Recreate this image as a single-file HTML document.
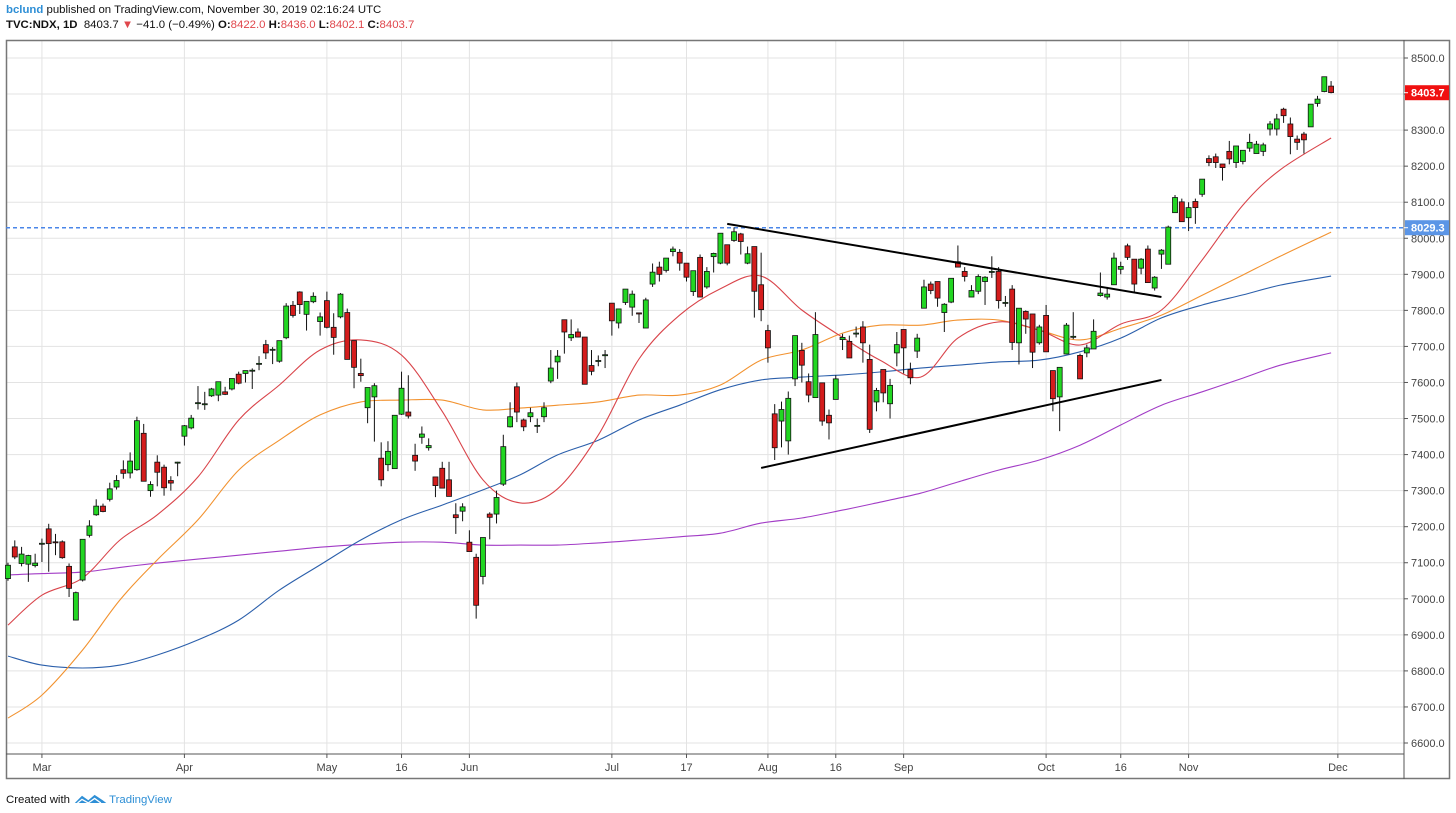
<!DOCTYPE html>
<html><head><meta charset="utf-8">
<style>
html,body{margin:0;padding:0;background:#fff;width:1456px;height:813px;overflow:hidden;font-family:"Liberation Sans",sans-serif;}
#hdr1{position:absolute;left:6px;top:4px;font-size:11.4px;color:#111;white-space:nowrap;}
#hdr2{position:absolute;left:6px;top:19px;font-size:11.4px;color:#111;white-space:nowrap;}
#hdr2 b{font-weight:bold;}
.blue{color:#2e8fd6;font-weight:bold;}
.red{color:#e0474c;}
#footer{position:absolute;left:6px;top:790px;font-size:11.4px;color:#111;white-space:nowrap;}
#footer .blue{font-weight:normal;}
svg{position:absolute;left:0;top:0;}
</style></head><body>
<div id="hdr1"><span class="blue">bclund</span> published on TradingView.com, November 30, 2019 02:16:24 UTC</div>
<div id="hdr2"><b>TVC:NDX, 1D</b>&nbsp; 8403.7 <span class="red">▼</span> −41.0 (−0.49%) <b>O:</b><span class="red">8422.0</span> <b>H:</b><span class="red">8436.0</span> <b>L:</b><span class="red">8402.1</span> <b>C:</b><span class="red">8403.7</span></div>
<svg id="chart" width="1456" height="813"></svg>
<div id="footer">Created with <svg width="36" height="13" viewBox="0 0 40 14" style="position:relative;top:2px;left:0;display:inline-block"><path d="M2 12 L10 4 L17 9 L24 3 L33 9 L37 12 Z" fill="#2e8fd6"/><path d="M5 12 L10 8 L17 12 L24 7 L31 12" fill="none" stroke="#fff" stroke-width="1.5"/></svg><span class="blue">TradingView</span></div>
<script>
const opens=[7056,7144,7098,7096,7092,7152,7194,7158,7158,7090,6941,7052,7176,7233,7257,7276,7310,7358,7349,7358,7459,7300,7379,7365,7328,7379,7451,7474,7544,7541,7563,7565,7574,7582,7623,7625,7634,7653,7705,7692,7659,7724,7814,7851,7789,7824,7769,7827,7753,7782,7794,7716,7625,7530,7560,7390,7372,7361,7512,7518,7398,7448,7419,7338,7362,7330,7233,7243,7157,7115,7062,7235,7235,7318,7477,7588,7496,7505,7481,7505,7604,7657,7774,7724,7740,7726,7647,7661,7677,7820,7765,7822,7809,7793,7751,7873,7920,7911,7963,7961,7931,7852,7947,7865,7949,7931,7982,7994,8012,7931,7977,7871,7744,7513,7493,7438,7610,7689,7602,7558,7599,7509,7553,7719,7714,7737,7754,7664,7546,7636,7541,7682,7747,7636,7687,7806,7873,7880,7794,7823,7935,7908,7837,7853,7880,7908,7908,7822,7859,7710,7797,7790,7710,7786,7633,7560,7679,7728,7675,7682,7693,7841,7837,7871,7914,7979,7942,7917,7970,7862,7956,7928,8071,8101,8057,8102,8122,8221,8226,8206,8241,8210,8213,8250,8235,8241,8303,8303,8358,8317,8275,8289,8309,8374,8407,8422];
const highs=[7100,7162,7144,7122,7125,7167,7208,7180,7162,7098,7020,7165,7218,7276,7264,7322,7343,7384,7406,7505,7485,7326,7398,7372,7340,7380,7482,7510,7590,7574,7585,7602,7588,7611,7630,7633,7639,7673,7718,7698,7716,7820,7826,7853,7825,7850,7794,7852,7792,7848,7805,7716,7666,7586,7598,7434,7437,7509,7630,7620,7430,7478,7445,7338,7380,7380,7265,7265,7190,7125,7170,7240,7300,7455,7545,7600,7500,7530,7500,7545,7690,7690,7774,7775,7750,7726,7690,7675,7690,7820,7804,7859,7855,7793,7835,7930,7935,7945,7977,7970,7931,7910,7955,7920,7960,8014,7982,8030,8015,7977,7977,7960,7760,7540,7547,7575,7730,7710,7625,7795,7599,7525,7620,7735,7730,7755,7770,7705,7585,7636,7610,7740,7747,7655,7735,7885,7880,7880,7820,7889,7980,7920,7870,7900,7895,7950,7920,7840,7870,7806,7800,7790,7760,7815,7633,7642,7765,7795,7680,7705,7775,7905,7865,7960,7935,7985,7942,7945,7980,7895,7970,8035,8120,8110,8100,8110,8164,8230,8235,8206,8270,8256,8244,8290,8270,8265,8325,8345,8362,8335,8285,8295,8372,8395,8448,8436];
const lows=[7050,7110,7090,7047,7087,7102,7075,7121,7111,7005,6940,7048,7170,7230,7240,7270,7303,7333,7334,7355,7326,7283,7312,7286,7300,7340,7425,7470,7525,7524,7560,7548,7565,7578,7595,7600,7582,7634,7665,7651,7655,7720,7780,7790,7744,7820,7730,7750,7677,7778,7664,7584,7602,7487,7436,7312,7354,7361,7510,7500,7355,7430,7411,7282,7307,7284,7180,7215,7131,6945,7040,7165,7209,7313,7475,7490,7465,7490,7460,7490,7598,7610,7680,7715,7725,7595,7620,7645,7640,7730,7750,7815,7785,7765,7751,7865,7880,7905,7950,7910,7880,7840,7837,7860,7905,7928,7925,7990,7955,7928,7780,7770,7655,7385,7420,7400,7590,7600,7545,7558,7480,7442,7553,7690,7668,7725,7655,7460,7520,7545,7500,7645,7625,7595,7668,7806,7845,7810,7740,7820,7920,7880,7837,7845,7815,7890,7805,7810,7690,7650,7735,7640,7705,7685,7520,7465,7679,7720,7610,7670,7693,7838,7830,7871,7900,7940,7850,7900,7877,7855,7915,7928,8071,8046,8020,8040,8115,8200,8195,8160,8205,8195,8205,8240,8235,8228,8285,8285,8320,8233,8245,8235,8309,8365,8405,8402];
const closes=[7093,7116,7124,7120,7099,7154,7153,7157,7114,7029,7017,7165,7202,7257,7242,7305,7328,7348,7382,7494,7326,7317,7351,7308,7321,7379,7480,7501,7544,7541,7582,7602,7567,7611,7598,7633,7634,7653,7682,7692,7716,7812,7786,7816,7825,7839,7782,7753,7725,7845,7664,7642,7619,7586,7591,7330,7409,7509,7584,7507,7382,7457,7425,7314,7307,7284,7225,7255,7131,6982,7170,7226,7281,7422,7505,7518,7477,7516,7481,7530,7640,7673,7740,7733,7726,7595,7631,7661,7677,7771,7804,7859,7845,7790,7829,7906,7900,7945,7970,7931,7892,7910,7837,7908,7958,8014,7931,8018,7991,7957,7853,7802,7696,7419,7525,7556,7730,7648,7565,7733,7493,7488,7610,7725,7668,7737,7710,7470,7578,7571,7592,7705,7696,7613,7723,7865,7855,7834,7817,7889,7920,7894,7855,7894,7892,7908,7827,7822,7711,7806,7776,7684,7754,7685,7555,7642,7759,7728,7610,7696,7742,7848,7845,7945,7922,7947,7873,7942,7877,7892,7967,8031,8113,8046,8085,8085,8164,8210,8210,8196,8220,8256,8244,8266,8261,8259,8317,8331,8340,8282,8266,8273,8372,8386,8448,8404];
// moving averages sampled at bar indices
const maIdx=[0,5,11,16.5,22,28,34,40,46,52,58,64,70,75.5,81,87,93,99,105,111,117,123,128.5,134.5,140,146,152,158,164,170,176,182,187.5,195];
const ma20=[6927,7010,7058,7163,7233,7338,7496,7593,7690,7718,7676,7520,7330,7266,7305,7454,7665,7787,7860,7895,7801,7725,7662,7615,7723,7768,7745,7704,7762,7801,7940,8092,8190,8278];
const ma50=[6669,6733,6858,6997,7108,7219,7357,7440,7510,7546,7551,7551,7524,7529,7537,7546,7565,7565,7593,7662,7690,7737,7759,7759,7773,7773,7745,7718,7750,7787,7842,7898,7950,8017];
const ma100=[6841,6816,6808,6816,6844,6886,6941,7024,7094,7163,7219,7260,7302,7344,7399,7440,7496,7537,7580,7607,7615,7621,7629,7640,7648,7657,7662,7685,7723,7779,7815,7843,7870,7895];
const ma200=[7066,7070,7074,7087,7099,7110,7121,7132,7143,7151,7157,7157,7149,7149,7149,7155,7163,7172,7182,7210,7224,7246,7268,7293,7324,7357,7385,7426,7482,7537,7574,7612,7648,7682];
const priceTicks=[8500,8400,8300,8200,8100,8000,7900,7800,7700,7600,7500,7400,7300,7200,7100,7000,6900,6800,6700,6600];
const dateLabels=["Mar","Apr","May","16","Jun","Jul","17","Aug","16","Sep","Oct","16","Nov","Dec"];
const dateIdx=[5,26,47,58,68,89,100,112,122,132,153,164,174,196];
const upperTrend=[[106,8040],[170,7837]];
const lowerTrend=[[111,7363],[170,7607]];
const hLine=8029.3, lastPrice=8403.7;

const NS="http://www.w3.org/2000/svg";
const svg=document.getElementById('chart');
const L=6,T=40,R=1404,B=754,AR=1450,AB=779;
const x=i=>8+i*6.785;
const y=p=>58+(8500-p)*(685/1900);
function el(tag,attrs,parent){const e=document.createElementNS(NS,tag);for(const k in attrs)e.setAttribute(k,attrs[k]);(parent||svg).appendChild(e);return e;}

// grid
const grid=el('g',{});


priceTicks.forEach(p=>{el('line',{x1:L,x2:R,y1:y(p),y2:y(p),stroke:'#e3e3e3','stroke-width':1},grid);});
dateIdx.forEach(i=>{el('line',{x1:x(i),x2:x(i),y1:T,y2:B,stroke:'#e3e3e3','stroke-width':1},grid);});

// frame
const frame=el('rect',{x:L+0.5,y:T+0.5,width:AR-L-1,height:AB-T-1,fill:'none',stroke:'#777','stroke-width':1.5});


el('line',{x1:R,x2:R,y1:T,y2:AB,stroke:'#555','stroke-width':1});
el('line',{x1:L,x2:R,y1:B,y2:B,stroke:'#555','stroke-width':1});

// price axis
const yAxis=el('g',{});


priceTicks.forEach(p=>{
  el('line',{x1:R,x2:R+4,y1:y(p),y2:y(p),stroke:'#555'},yAxis);
  const t=el('text',{x:1411,y:y(p)+4,'font-size':11,fill:'#444','font-family':'Liberation Sans, sans-serif'},yAxis);
  t.textContent=p.toFixed(1);
  
  
});
// time axis
const xAxis=el('g',{});


dateIdx.forEach((i,k)=>{
  el('line',{x1:x(i),x2:x(i),y1:B,y2:B+4,stroke:'#555'},xAxis);
  const t=el('text',{x:x(i),y:B+17,'font-size':11,fill:'#444','text-anchor':'middle','font-family':'Liberation Sans, sans-serif'},xAxis);
  t.textContent=dateLabels[k];
  
  
});

// moving averages (smoothed Catmull-Rom)
function ma(vals,color,name){
  const P=maIdx.map((i,k)=>[x(i),y(vals[k])]);
  let d='M'+P[0][0].toFixed(1)+' '+P[0][1].toFixed(1);
  for(let k=0;k<P.length-1;k++){
    const p0=P[Math.max(0,k-1)],p1=P[k],p2=P[k+1],p3=P[Math.min(P.length-1,k+2)];
    const c1=[p1[0]+(p2[0]-p0[0])/6,p1[1]+(p2[1]-p0[1])/6];
    const c2=[p2[0]-(p3[0]-p1[0])/6,p2[1]-(p3[1]-p1[1])/6];
    d+=' C'+c1[0].toFixed(1)+' '+c1[1].toFixed(1)+' '+c2[0].toFixed(1)+' '+c2[1].toFixed(1)+' '+p2[0].toFixed(1)+' '+p2[1].toFixed(1);
  }
  const p=el('path',{d:d,fill:'none',stroke:color,'stroke-width':1.1});
  
  
}
ma(ma200,'#a23cc6','ma-200-line');
ma(ma100,'#2b5fab','ma-100-line');
ma(ma50,'#f2922f','ma-50-line');
ma(ma20,'#d9444a','ma-20-line');

// horizontal line
const hl=el('line',{x1:L,x2:R,y1:y(hLine),y2:y(hLine),stroke:'#4a86e8','stroke-width':1.5,'stroke-dasharray':'4 3'});



// candles
const cg=el('g',{});


opens.forEach((o,i)=>{
  const c=closes[i],cx=x(i);
  const g=el('g',{},cg);
  
  
  el('line',{x1:cx,x2:cx,y1:y(highs[i]),y2:y(lows[i]),stroke:'#111','stroke-width':1},g);
  const top=y(Math.max(o,c)),bot=y(Math.min(o,c));
  el('rect',{x:cx-2.5,y:top,width:5,height:Math.max(1,bot-top),fill:c>=o?'#22d622':'#d41c1c',stroke:'#111','stroke-width':0.8},g);
});

// trendlines
function tl(pts,name){
  const l=el('line',{x1:x(pts[0][0]),y1:y(pts[0][1]),x2:x(pts[1][0]),y2:y(pts[1][1]),stroke:'#000','stroke-width':2});
  
  
}
tl(upperTrend,'upper-trendline');
tl(lowerTrend,'lower-trendline');

// price labels
function plabel(p,color,name){
  const g=el('g',{});
  
  
  el('rect',{x:R+1,y:y(p)-7.5,width:AR-R-2,height:15,fill:color},g);
  el('line',{x1:R,x2:R+4,y1:y(p),y2:y(p),stroke:'#fff'},g);
  const t=el('text',{x:1411,y:y(p)+4,'font-size':11,'font-weight':'bold',fill:'#fff','font-family':'Liberation Sans, sans-serif'},g);
  t.textContent=p.toFixed(1);
}
plabel(lastPrice,'#f01010','last-price-label');
plabel(hLine,'#5b95e6','level-price-label');
</script>
</body></html>
